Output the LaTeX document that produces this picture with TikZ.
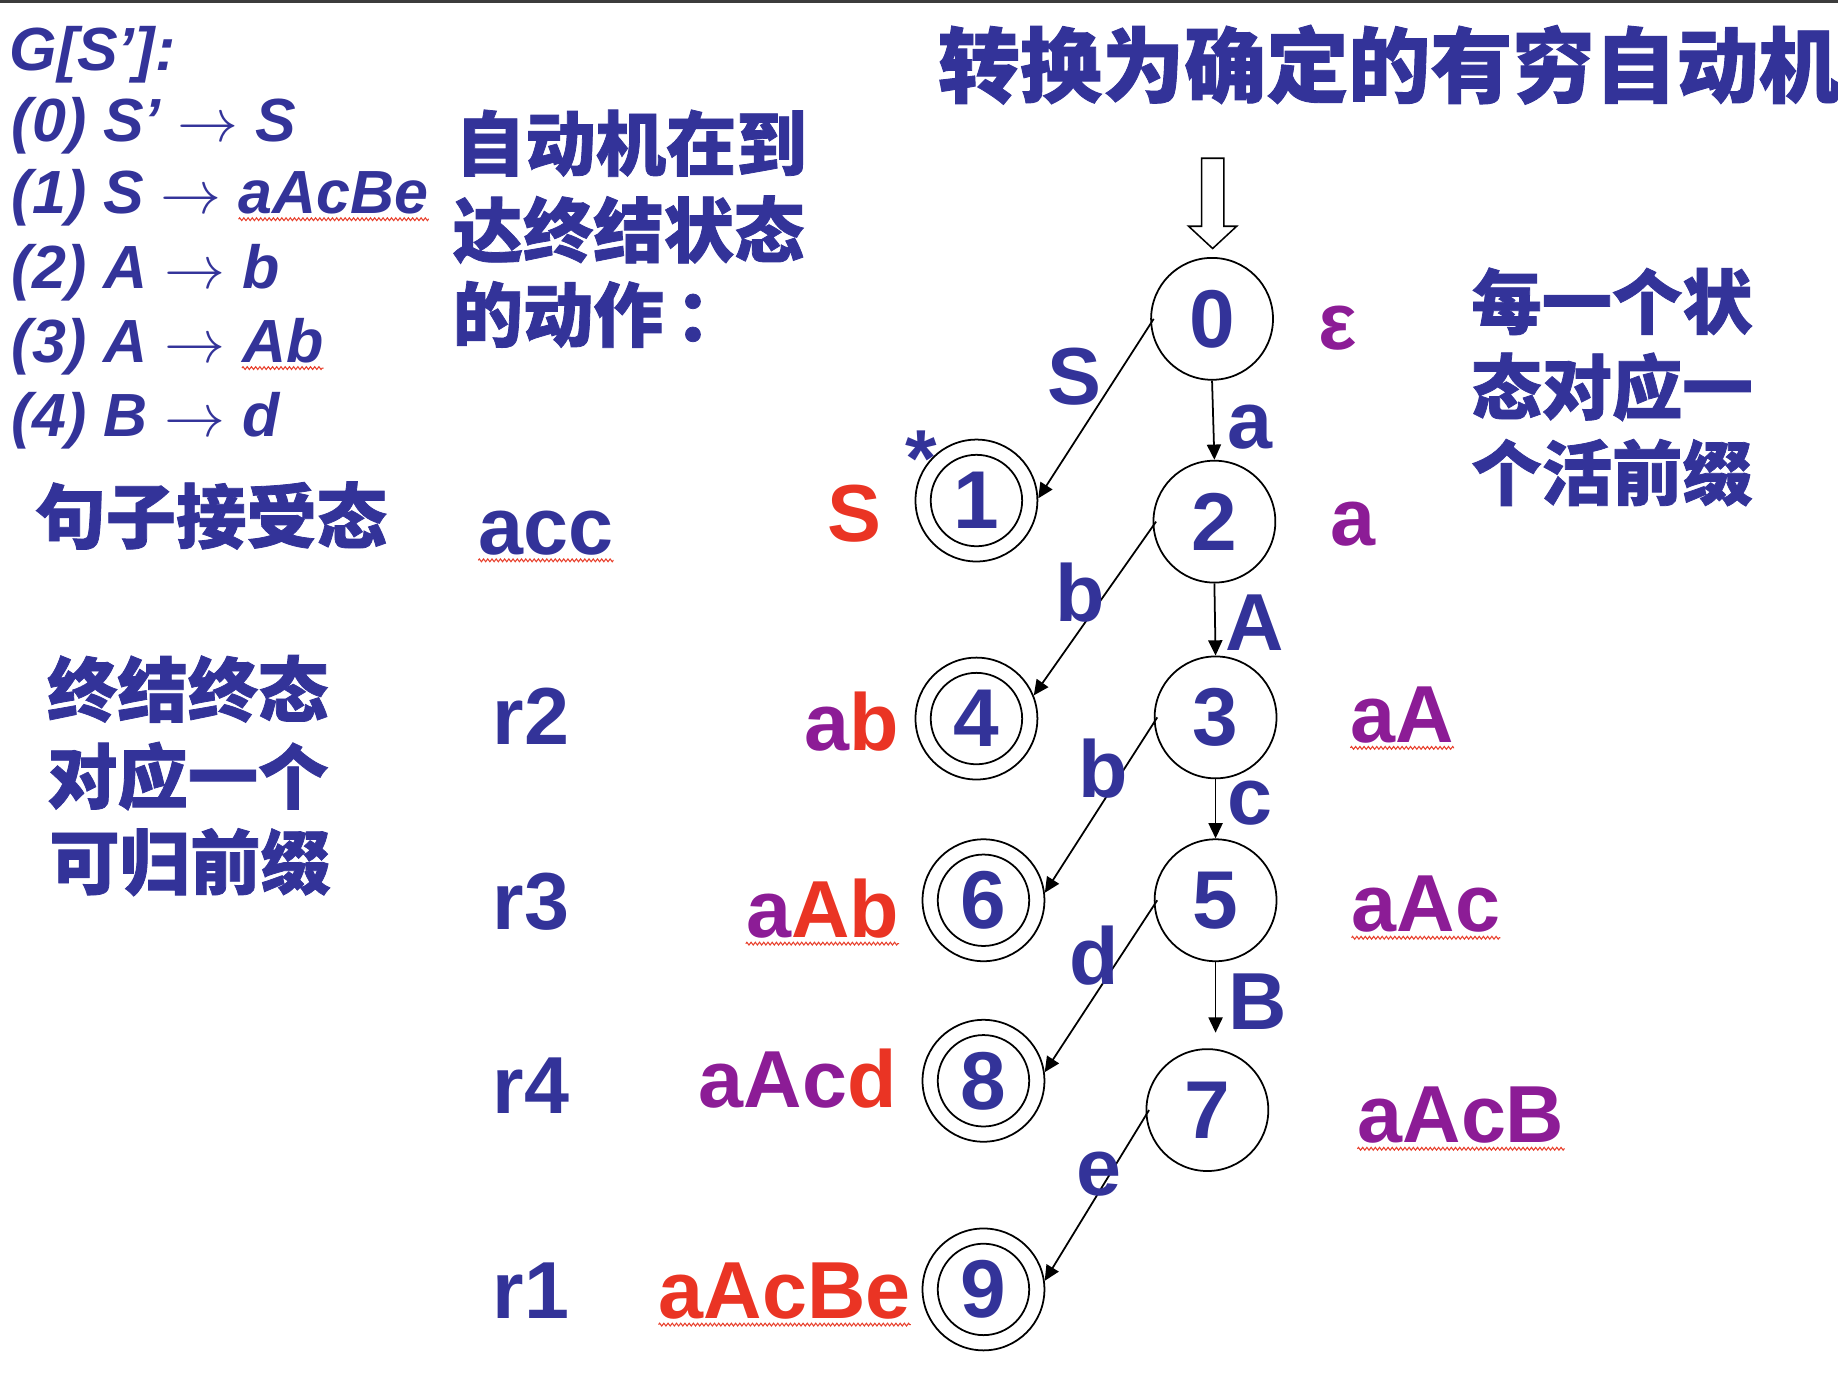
\RequirePackage{fix-cm}
\documentclass[tikz,border=0pt]{standalone}
\usepackage{fontspec}
\setmainfont{Liberation Sans}
\newfontfamily\cjk{Noto Sans CJK SC}[BoldFeatures={FakeBold=1.1}]
\usetikzlibrary{arrows.meta,decorations.pathmorphing}
\definecolor{tblue}{RGB}{51,51,153}
\definecolor{tpurple}{RGB}{140,28,150}
\definecolor{tred}{RGB}{234,52,36}
\definecolor{sqred}{RGB}{232,64,44}
\definecolor{topbar}{RGB}{60,60,60}
\begin{document}
\begin{tikzpicture}[x=1pt,y=-1pt,
  gram/.style={font=\fontsize{52}{60}\selectfont\bfseries\itshape, text=tblue, inner sep=0pt, anchor=base west},
  cjkt/.style={font=\cjk\bfseries\fontsize{60}{72}\selectfont, text=tblue, inner sep=0pt, anchor=base west},
  big/.style={font=\fontsize{69}{80}\selectfont\bfseries, inner sep=0pt, anchor=base west},
  lbl/.style={big, text=tblue},
  state/.style={circle, draw=black, line width=1.5pt, minimum size=104pt, inner sep=0pt, text=tblue, font=\fontsize{70}{70}\selectfont\bfseries},
  accst/.style={state, path picture={\draw[line width=1.5pt] (path picture bounding box.center) circle[radius=39pt];}},
  trans/.style={line width=1.5pt, -{Triangle[length=13pt,width=12pt]}},
  squig/.style={draw=sqred, line width=0.9pt, decorate, decoration={zigzag, amplitude=1.2pt, segment length=3.6pt}}
]
\useasboundingbox (0,0) rectangle (1568,1181);
\fill[topbar] (0,0) rectangle (1568,2.5);

% title
\node[cjkt, font=\cjk\bfseries\fontsize{70}{80}\selectfont] (title) at (800,82) {转换为确定的有穷自动机};

% grammar
\node[gram] (g) at (8,60) {G[S’]:};
\node[gram] (g0) at (10,121) {(0) S’ $\rightarrow$ S};
\node[gram] (g1) at (10,182) {(1) S $\rightarrow$};
\node[gram, xshift=14pt] (g1r) at (g1.base east) {aAcBe};
\node[gram] (g2) at (10,246) {(2) A $\rightarrow$ b};
\node[gram] (g3) at (10,309) {(3) A $\rightarrow$};
\node[gram, xshift=14pt] (g3r) at (g3.base east) {Ab};
\node[gram] (g4) at (10,372) {(4) B $\rightarrow$ d};

% middle text
\node[cjkt] (m1) at (388,145) {自动机在到};
\node[cjkt] (m2) at (386,219) {达终结状态};
\node[cjkt] (m3) at (386,291) {的动作\hspace{10pt}：};

\node[cjkt] (l1) at (30,463) {句子接受态};
\node[cjkt] (l2) at (40,611) {终结终态};
\node[cjkt] (l3) at (40,685) {对应一个};
\node[cjkt] (l4) at (42,758) {可归前缀};

\node[cjkt] (r1) at (1255,280) {每一个状};
\node[cjkt] (r2) at (1255,353) {态对应一};
\node[cjkt] (r3) at (1255,426) {个活前缀};

% actions
\node[lbl] (acc) at (408,473) {acc};
\node[lbl] (ar2) at (420,635) {r2};
\node[lbl] (ar3) at (420,793) {r3};
\node[lbl] (ar4) at (420,950) {r4};
\node[lbl] (ar1) at (420,1125) {r1};

% start arrow
\draw[line width=1.3pt, fill=white] (1025,135) -- (1044,135) -- (1044,193) -- (1055,193) -- (1034.5,212) -- (1014,193) -- (1025,193) -- cycle;

% states
\node[state] (s0) at (1034,272) {0};
\node[accst] (s1) at (833,427) {1};
\node[state] (s2) at (1036,445) {2};
\node[state] (s3) at (1037,612) {3};
\node[accst] (s4) at (833,613) {4};
\node[state] (s5) at (1037,768) {5};
\node[accst] (s6) at (839,768) {6};
\node[state] (s7) at (1030,947) {7};
\node[accst] (s8) at (839,922) {8};
\node[accst] (s9) at (839,1100) {9};
\coordinate (e57) at (1037,881);

% transitions
\draw[trans] ([xshift=3pt]s0.west) -- (s1.2);
\draw[trans] (s0.south) -- (s2.north);
\draw[trans] ([xshift=3pt]s2.west) -- (s4.22);
\draw[trans] (s2.south) -- (s3.north);
\draw[trans] ([xshift=3pt]s3.west) -- (s6.7);
\draw[trans] (s3.south) -- (s5.north);
\draw[trans] ([xshift=3pt]s5.west) -- (s8.8);
\draw[trans] (s5.south) -- (e57);
\draw[trans] ([xshift=3pt]s7.west) -- (s9.8);

% transition labels
\node[lbl] (tS) at (893,345) {S};
\node[lbl] (ta) at (1047,383) {a};
\node[lbl] (tb1) at (900,530) {b};
\node[lbl] (tA) at (1045,555) {A};
\node[lbl] (tb2) at (920,680) {b};
\node[lbl] (tc) at (1047,703) {c};
\node[lbl] (td) at (912,840) {d};
\node[lbl] (tB) at (1048,878) {B};
\node[lbl] (te) at (918,1020) {e};
\node[lbl] (star) at (772,415) {*};

% prefixes (right)
\node[big, text=tpurple] (p0) at (1125,298) {ε};
\node[big, text=tpurple] (p2) at (1135,465) {a};
\node[big, text=tpurple] (p3) at (1152,633) {aA};
\node[big, text=tpurple] (p5) at (1153,795) {aAc};
\node[big, text=tpurple] (p7) at (1158,975) {aAcB};

% handles (left)
\node[big, anchor=base east, text=tred] (h1) at (752,462) {S};
\node[big, anchor=base east] (h4) at (767,640) {{\color{tpurple}a}{\color{tred}b}};
\node[big, anchor=base east] (h6) at (767,800) {{\color{tpurple}a}{\color{tred}Ab}};
\node[big, anchor=base east] (h8) at (765,945) {{\color{tpurple}aAc}{\color{tred}d}};
\node[big, anchor=base east, text=tred] (h9) at (777,1125) {aAcBe};

% spelling squiggles
\foreach \n in {g1r,g3r,acc,p3,p5,p7,h6,h9}{
  \draw[squig] ([yshift=-5pt]\n.base west) -- ([yshift=-5pt]\n.base east);
}
\end{tikzpicture}
\end{document}
